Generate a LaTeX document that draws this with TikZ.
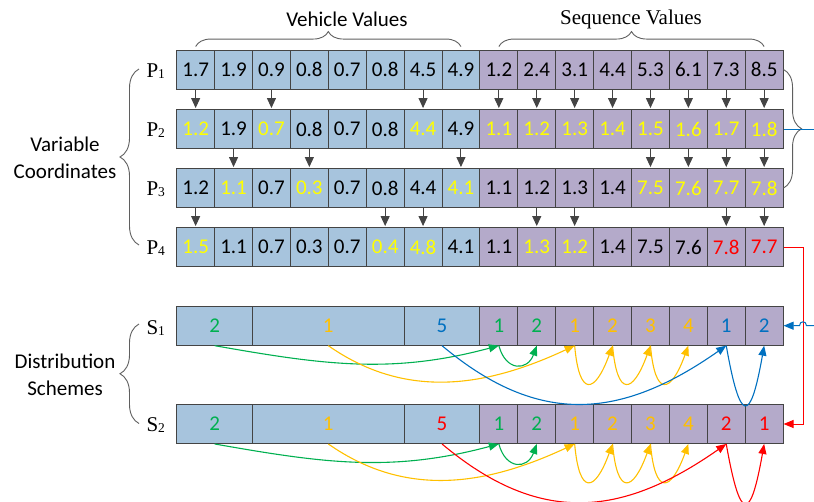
\documentclass[tikz,border=0pt]{standalone}
\usepackage{fontspec}
\setmainfont{Carlito}
\newfontfamily\serifface{Liberation Serif}
\usetikzlibrary{arrows.meta,decorations.pathreplacing}

\definecolor{cellblue}{RGB}{167,196,221}
\definecolor{cellpurple}{RGB}{180,170,202}
\definecolor{cellline}{RGB}{68,68,68}
\definecolor{bracegray}{RGB}{95,95,95}
\definecolor{hlyellow}{RGB}{255,255,0}
\definecolor{hlred}{RGB}{255,0,0}
\definecolor{hlgreen}{RGB}{0,176,80}
\definecolor{hlorange}{RGB}{255,192,0}
\definecolor{hlblue}{RGB}{0,112,192}

% one row of sixteen value cells: name, y, vehicle part, sequence part
\newcommand\cellrow[4]{%
  \foreach \v/\c [count=\i] in {#3}
    \node[vcell, text=\c] (#1c\i) at ({176.7+(\i-0.5)*37.9}, #2) {\v};
  \foreach \v/\c [count=\i from 9] in {#4}
    \node[scell, text=\c] (#1c\i) at ({176.7+(\i-0.5)*37.9}, #2) {\v};
}

\begin{document}
\begin{tikzpicture}[x=1pt,y=1pt,
  cell/.style={draw=cellline, line width=0.9pt, minimum width=37.9pt,
    minimum height=39pt, inner sep=0pt, font=\fontsize{21}{24}\selectfont},
  vcell/.style={cell, fill=cellblue},
  scell/.style={cell, fill=cellpurple},
  widecell/.style={vcell, minimum width=#1},
  droparrow/.style={draw=cellline, line width=1pt, shorten >=1pt,
    -{Triangle[length=10pt,width=9pt]}},
  curvearrow/.style={line width=1.1pt, -{Triangle[length=10pt,width=8pt]}},
  bracket/.style={draw=bracegray, line width=0.9pt, decorate,
    decoration={brace, amplitude=#1}},
  rowlabel/.style={anchor=base west, font=\serifface\fontsize{21}{24}\selectfont},
  sidelabel/.style={align=center, font=\fontsize{21}{27}\selectfont},
  toptitle/.style={font=\fontsize{21}{24}\selectfont}
]
\useasboundingbox (0,0) rectangle (814,-501);

% ---- particle rows ----
\cellrow{p1}{-69.5}
  {1.7/black,1.9/black,0.9/black,0.8/black,0.7/black,0.8/black,4.5/black,4.9/black}
  {1.2/black,2.4/black,3.1/black,4.4/black,5.3/black,6.1/black,7.3/black,8.5/black}
\cellrow{p2}{-129}
  {1.2/hlyellow,1.9/black,0.7/hlyellow,0.8/black,0.7/black,0.8/black,4.4/hlyellow,4.9/black}
  {1.1/hlyellow,1.2/hlyellow,1.3/hlyellow,1.4/hlyellow,1.5/hlyellow,1.6/hlyellow,1.7/hlyellow,1.8/hlyellow}
\cellrow{p3}{-188}
  {1.2/black,1.1/hlyellow,0.7/black,0.3/hlyellow,0.7/black,0.8/black,4.4/black,4.1/hlyellow}
  {1.1/black,1.2/black,1.3/black,1.4/black,7.5/hlyellow,7.6/hlyellow,7.7/hlyellow,7.8/hlyellow}
\cellrow{p4}{-247}
  {1.5/hlyellow,1.1/black,0.7/black,0.3/black,0.7/black,0.4/hlyellow,4.8/hlyellow,4.1/black}
  {1.1/black,1.3/hlyellow,1.2/hlyellow,1.4/black,7.5/black,7.6/black,7.8/hlred,7.7/hlred}

% ---- downward update arrows ----
\foreach \k in {1,3,7,9,10,11,12,13,14,15,16}
  \draw[droparrow] (p1c\k.south) -- (p2c\k.north);
\foreach \k in {2,4,8,13,14,15,16}
  \draw[droparrow] (p2c\k.south) -- (p3c\k.north);
\foreach \k in {1,6,7,10,11,15,16}
  \draw[droparrow] (p3c\k.south) -- (p4c\k.north);

% ---- row labels ----
\node[rowlabel] (lp1) at (143,-77.3) {P\raisebox{-1pt}{\fontsize{13.5}{14}\selectfont 1}};
\node[rowlabel] (lp2) at (143,-136.8) {P\raisebox{-1pt}{\fontsize{13.5}{14}\selectfont 2}};
\node[rowlabel] (lp3) at (143,-195.6) {P\raisebox{-1pt}{\fontsize{13.5}{14}\selectfont 3}};
\node[rowlabel] (lp4) at (143,-254.5) {P\raisebox{-1pt}{\fontsize{13.5}{14}\selectfont 4}};

% ---- top titles and braces ----
\draw[bracket=15pt] ([yshift=3pt]p1c1.north) -- ([yshift=3pt]p1c8.north);
\draw[bracket=15pt] ([yshift=3pt]p1c9.north) -- ([yshift=3pt]p1c16.north);
\node[toptitle] (veh) at (347,-19) {Vehicle Values};
\node[toptitle, font=\serifface\fontsize{21}{24}\selectfont] (seq) at (631,-19) {Sequence Values};

% ---- left braces and group names ----
\draw[bracket=19pt] (139,-245) -- (139,-69);
\node[sidelabel] (varco) at (65,-158) {Variable\\Coordinates};
\draw[bracket=19pt] (139,-423.5) -- (139,-324);
\node[sidelabel] (dist) at (65,-375) {Distribution\\Schemes};

% ---- distribution scheme rows ----
\foreach \r/\y/\fivecol/\ta/\tb/\ca/\cb in {s1/-325.7/hlblue/1/2/hlblue/hlblue,
                                            s2/-424/hlred/2/1/hlred/hlred} {
  \node[widecell=75.8pt, text=hlgreen] (\r w1) at (214.6,\y) {2};
  \node[widecell=151.6pt, text=hlorange] (\r w2) at (328.3,\y) {1};
  \node[widecell=75.8pt, text=\fivecol] (\r w3) at (442,\y) {5};
  \foreach \v/\c [count=\i from 9] in {1/hlgreen,2/hlgreen,1/hlorange,2/hlorange,
                                      3/hlorange,4/hlorange,\ta/\ca,\tb/\cb}
    \node[scell, text=\c] (\r c\i) at ({176.7+(\i-0.5)*37.9}, \y) {\v};
}
\node[rowlabel] (ls1) at (143,-334.3) {S\raisebox{-1pt}{\fontsize{13.5}{14}\selectfont 1}};
\node[rowlabel] (ls2) at (143,-431.7) {S\raisebox{-1pt}{\fontsize{13.5}{14}\selectfont 2}};

% ---- decoding curves ----
\foreach \r/\last in {s1/hlblue, s2/hlred} {
  \draw[curvearrow, hlgreen] (\r w1.south) to[out=-10,in=195] (\r c9.south);
  \draw[curvearrow, hlgreen] (\r c9.south) to[out=-75,in=-110,distance=27pt] (\r c10.south);
  \draw[curvearrow, hlorange] (\r w2.south) to[out=-35,in=205] (\r c11.south);
  \foreach \a/\b in {11/12,12/13,13/14}
    \draw[curvearrow, hlorange] (\r c\a.south) to[out=-85,in=-110,distance=52pt] (\r c\b.south);
  \draw[curvearrow, \last] (\r w3.south) to[out=-40,in=215,looseness=1.15] (\r c15.south);
  \draw[curvearrow, \last] (\r c15.south) to[out=-80,in=-100,distance=80pt] (\r c16.south);
}

% ---- right-hand links ----
\draw[bracket=18pt] (p1c16.east) -- (p3c16.east);
\coordinate (blueout) at (814,-129);
\draw[hlblue, line width=1pt] (p2c16.east) -- (blueout);
\draw[hlred, line width=1pt, -{Triangle[length=10pt,width=8pt]}]
  (p4c16.east) -- ++(20,0) |- (s2c16.east);
\coordinate (bluein) at (814,-325.7);
\draw[hlblue, line width=1pt, -{Triangle[length=10pt,width=8pt]}]
  (bluein) -- (806.5,-325.7) .. controls (806.5,-320.5) and (799.5,-320.5) .. (799.5,-325.7)
  -- (s1c16.east);
\end{tikzpicture}
\end{document}
